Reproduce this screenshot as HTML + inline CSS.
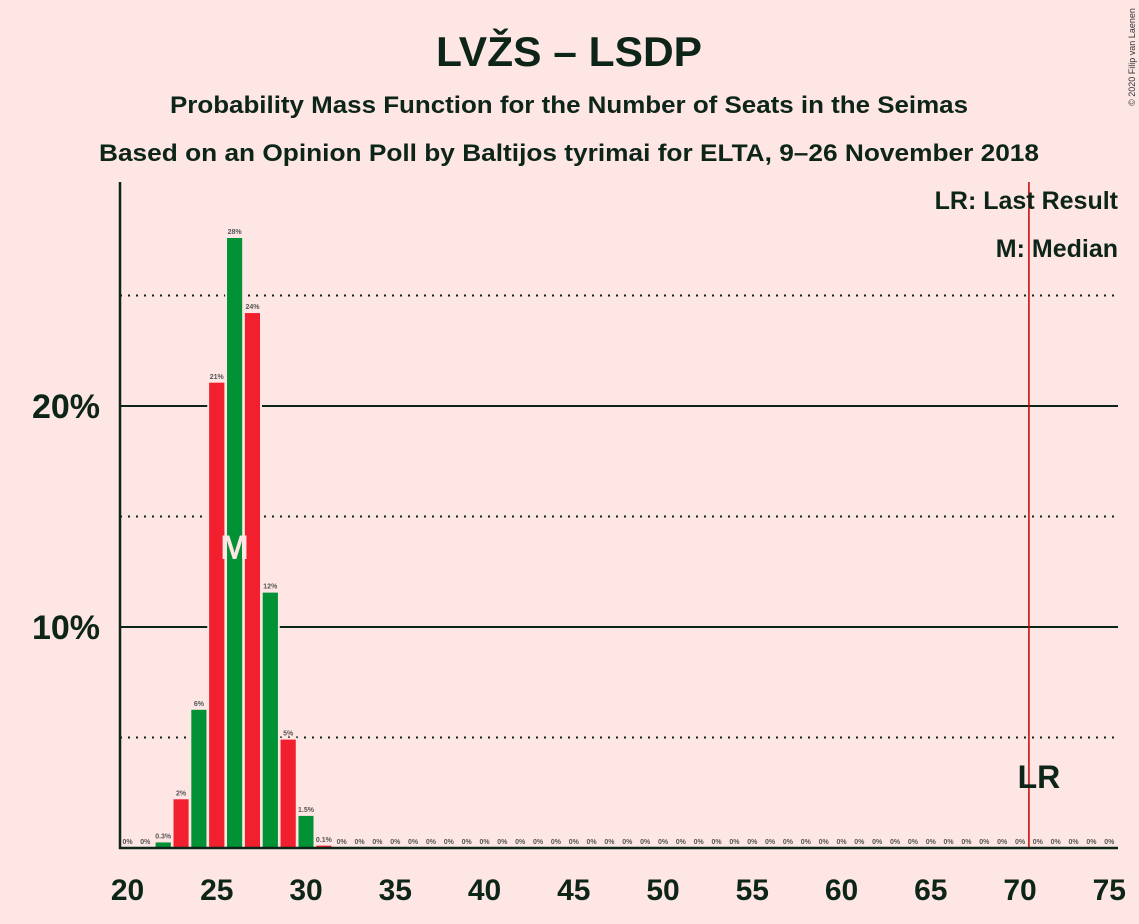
<!DOCTYPE html>
<html><head><meta charset="utf-8"><style>
body{margin:0;background:#fde6e4;}
svg{display:block;font-family:"Liberation Sans",sans-serif;}
</style></head><body>
<svg id="chart" width="1139" height="924" viewBox="0 0 1139 924">
<rect width="1139" height="924" fill="#fde6e4"/>
<text x="569" y="66" text-anchor="middle" font-size="42" font-weight="bold" fill="#0d2418" textLength="266" lengthAdjust="spacingAndGlyphs">LVŽS – LSDP</text>
<text x="569" y="113" text-anchor="middle" font-size="24" font-weight="bold" fill="#0d2418" textLength="798" lengthAdjust="spacingAndGlyphs">Probability Mass Function for the Number of Seats in the Seimas</text>
<text x="569" y="161" text-anchor="middle" font-size="24" font-weight="bold" fill="#0d2418" textLength="940" lengthAdjust="spacingAndGlyphs">Based on an Opinion Poll by Baltijos tyrimai for ELTA, 9–26 November 2018</text>
<text x="1135" y="57" font-size="9" fill="#333" transform="rotate(-90 1135 57)" text-anchor="middle">© 2020 Filip van Laenen</text>
<g id="grid"></g>
<g id="bars"></g>
<g id="axes"></g>
<text x="1118" y="209" text-anchor="end" font-size="25" font-weight="bold" fill="#0d2418">LR: Last Result</text>
<text x="1118" y="257" text-anchor="end" font-size="25" font-weight="bold" fill="#0d2418">M: Median</text>
</svg>
<script>
const seats=[20,21,22,23,24,25,26,27,28,29,30,31,32,33,34,35,36,37,38,39,40,41,42,43,44,45,46,47,48,49,50,51,52,53,54,55,56,57,58,59,60,61,62,63,64,65,66,67,68,69,70,71,72,73,74,75];
const probs=[0,0,0.25,2.2,6.25,21.05,27.6,24.2,11.55,4.9,1.45,0.1,0,0,0,0,0,0,0,0,0,0,0,0,0,0,0,0,0,0,0,0,0,0,0,0,0,0,0,0,0,0,0,0,0,0,0,0,0,0,0,0,0,0,0,0];
const labels=["0%","0%","0.3%","2%","6%","21%","28%","24%","12%","5%","1.5%","0.1%"];
const xTicks=[20,25,30,35,40,45,50,55,60,65,70,75];
const yMajor=[10,20];
const yMinor=[5,15,25];
const median=26;
const lastResult=70.5;
const NS="http://www.w3.org/2000/svg";
const X=s=>127.5+(s-20)*17.85;
const Y=p=>848-p*22.1;
function mk(tag,attrs,parent){const e=document.createElementNS(NS,tag);for(const k in attrs)e.setAttribute(k,attrs[k]);parent.appendChild(e);return e;}
const grid=document.getElementById('grid'),bars=document.getElementById('bars'),axes=document.getElementById('axes');
yMinor.forEach(v=>{const l=mk('line',{x1:120,x2:1118,y1:Y(v),y2:Y(v),stroke:'#0d2418','stroke-width':2,'stroke-dasharray':'2,6'},grid);

});
yMajor.forEach(v=>{const l=mk('line',{x1:120,x2:1118,y1:Y(v),y2:Y(v),stroke:'#0d2418','stroke-width':2},grid);


const t=mk('text',{x:100,y:Y(v)+12,'text-anchor':'end','font-size':34,'font-weight':'bold',fill:'#0d2418'},axes);t.textContent=v+'%';

});
seats.forEach((s,i)=>{const p=probs[i];const col=(s%2===0)?'#009235':'#f2202e';
if(p>0){const r=mk('rect',{x:X(s)-7.5,y:Y(p),width:15,height:848-Y(p),fill:col,stroke:'#fde6e4','stroke-width':4,'paint-order':'stroke'},bars);


const r2=mk('rect',{x:X(s)-7.5,y:Y(p),width:15,height:848-Y(p),fill:col},bars);

}
const t=mk('text',{x:X(s),y:Y(p)-4,'text-anchor':'middle','font-size':7,'font-weight':'bold',fill:'#555'},bars);t.textContent=labels[i]||'0%';

});
const m=mk('text',{x:X(median),y:559,'text-anchor':'middle','font-size':34,'font-weight':'bold',fill:'#fde6e4'},bars);m.textContent='M';


const lr=mk('line',{x1:X(lastResult),x2:X(lastResult),y1:182,y2:848,stroke:'#c00','stroke-width':1.5},bars);


const lrt=mk('text',{x:X(lastResult)+10,y:788,'text-anchor':'middle','font-size':32,'font-weight':'bold',fill:'#0d2418'},bars);lrt.textContent='LR';


const ya=mk('line',{x1:120,x2:120,y1:182,y2:849,stroke:'#0d2418','stroke-width':2.5},axes);


const xa=mk('line',{x1:119,x2:1118,y1:848,y2:848,stroke:'#0d2418','stroke-width':2.5},axes);


xTicks.forEach(s=>{const t=mk('text',{x:X(s),y:900,'text-anchor':'middle','font-size':30,'font-weight':'bold',fill:'#0d2418'},axes);t.textContent=s;

});
</script>
</body></html>
